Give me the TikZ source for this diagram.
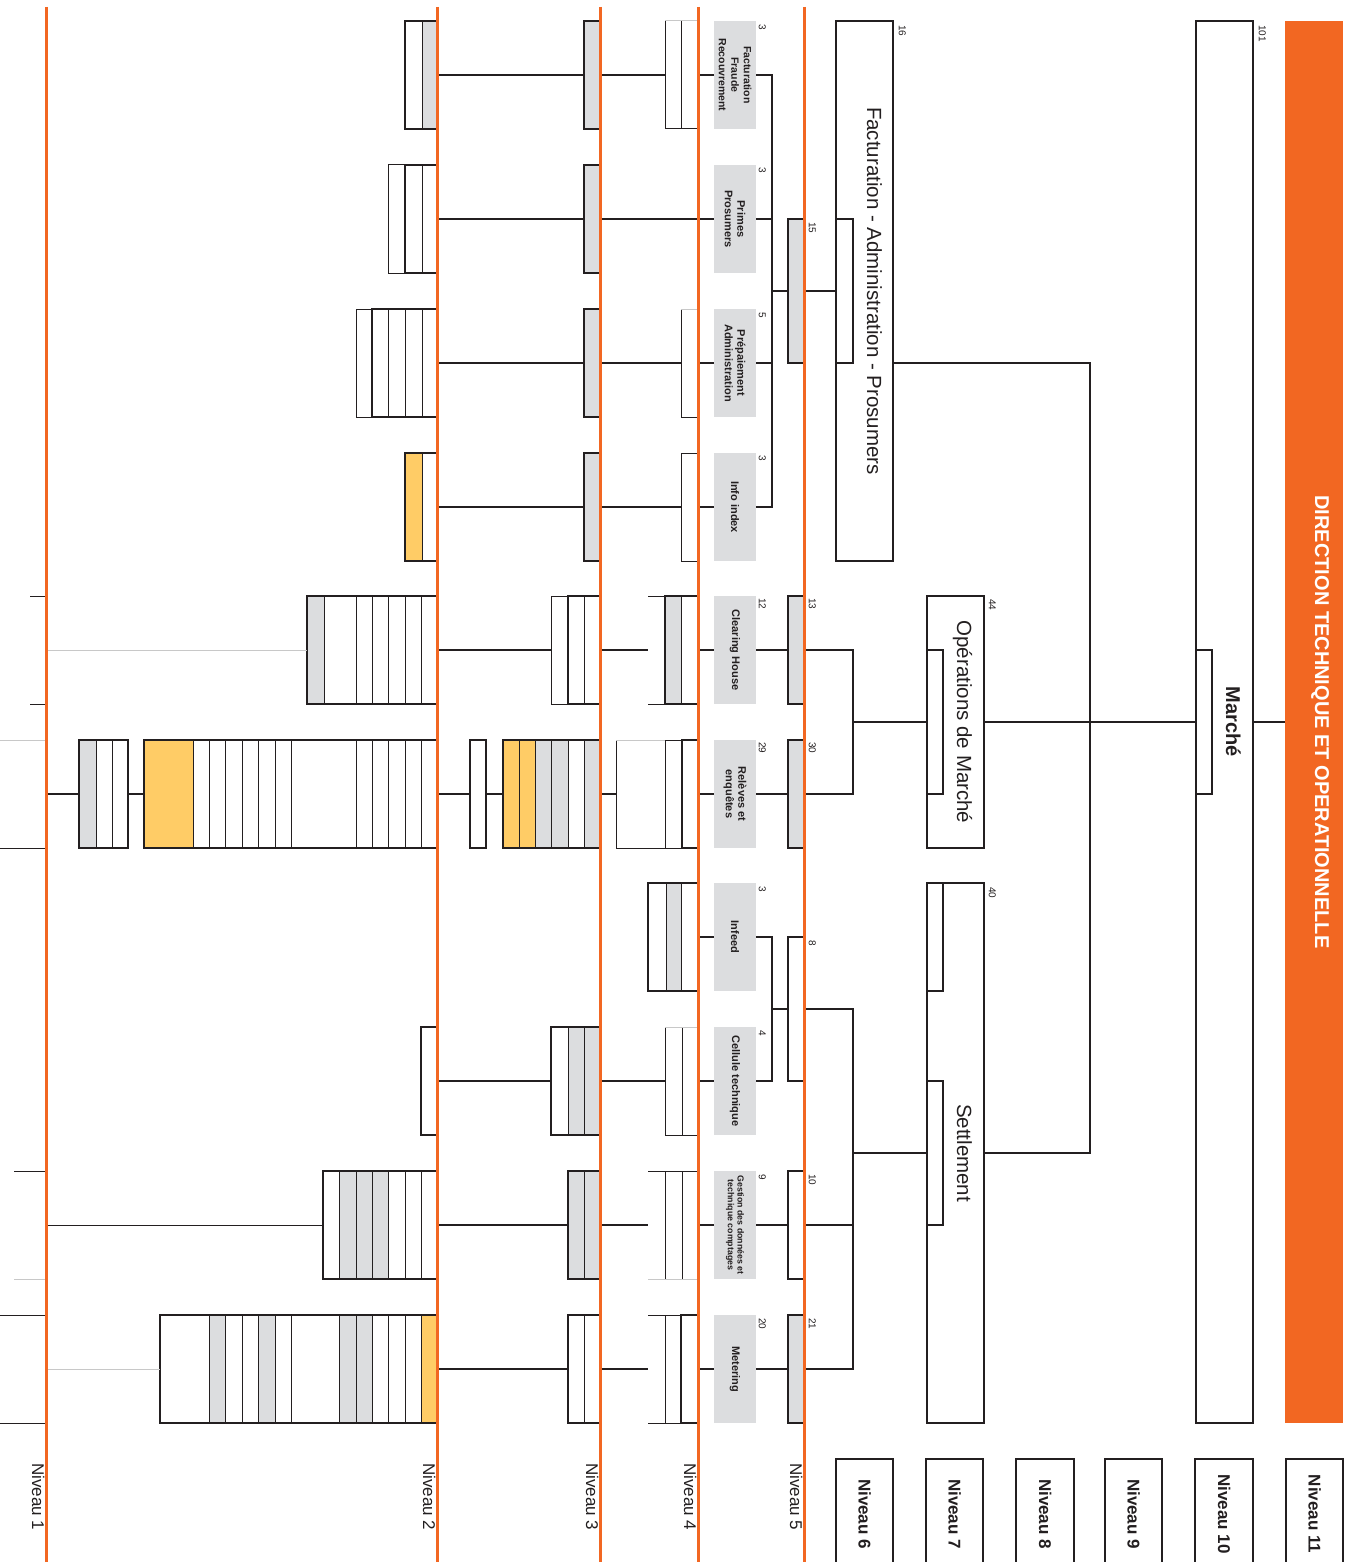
\documentclass[tikz,border=0pt]{standalone}
\usepackage{fontspec}
\setmainfont{Liberation Sans}
\definecolor{orng}{HTML}{F26722}
\definecolor{gfill}{HTML}{DCDDDF}
\definecolor{yfill}{HTML}{FFCC66}
\definecolor{lgray}{HTML}{C8C8C8}
\definecolor{ink}{HTML}{231F20}
\newcommand\bx[6][]{\node[bxs,minimum width={(#4-#2)*1pt},minimum height={(#5-#3)*1pt},#1] (#6) at ({(#2+#4)/2},{(#3+#5)/2}) {};}
\newcommand\cellrow[3]{\foreach \xa/\xb/\cl in {#3}{\filldraw[fill=\cl,draw=ink,line width=1pt] (\xa,#1) rectangle (\xb,#2);}}
\begin{document}
\begin{tikzpicture}[x=1pt,y=-1pt,
  bxs/.style={draw=ink,line width=2.2pt,inner sep=0pt,outer sep=0pt,rectangle},
  conn/.style={draw=ink,line width=2.2pt},
  thinl/.style={draw=ink,line width=1pt},
  lgl/.style={draw=lgray,line width=1pt},
  olin/.style={draw=orng,line width=3pt},
  lab/.style={rotate=-90,font=\bfseries\fontsize{11}{12.5}\selectfont,align=center,inner sep=0pt,text=ink},
  num/.style={rotate=-90,font=\fontsize{10}{11}\selectfont,anchor=north west,inner sep=0pt,text=ink},
  big/.style={rotate=-90,font=\fontsize{20.5}{24}\selectfont,anchor=base,inner sep=0pt,text=ink},
  niv/.style={rotate=-90,font=\fontsize{17}{20}\selectfont,anchor=base west,inner sep=0pt,text=ink},
  nivb/.style={rotate=-90,font=\bfseries\fontsize{17}{20}\selectfont,anchor=base,inner sep=0pt,text=ink}]
\useasboundingbox[fill=white] (0,0) rectangle (1350,1562);

% ---------- top levels ----------
\bx[draw=none,fill=orng]{1285}{21}{1343}{1423}{dir}
\node[rotate=-90,font=\bfseries\fontsize{20}{24}\selectfont,anchor=base,inner sep=0pt,text=white] (dirt) at (1315,722) {DIRECTION TECHNIQUE ET OPERATIONNELLE};
\bx{1196}{21}{1253}{1423}{mar}
\node[rotate=-90,font=\bfseries\fontsize{20}{24}\selectfont,anchor=base,inner sep=0pt,text=ink] (mart) at (1226,722) {Marché};
\node[num] (marn) at (1266,25) {101};
\draw[conn] (1196,650) -- (1212,650) -- (1212,794) -- (1196,794);

\bx{836}{21}{893}{561}{fac}
\node[big] (fact) at (867,291) {Facturation - Administration - Prosumers};
\node[num] (facn) at (906,25) {16};
\draw[conn] (836,219) -- (853,219) -- (853,363) -- (836,363);

\bx{927}{596}{984}{848}{ope}
\node[big] (opet) at (957,722) {Opérations de Marché};
\node[num] (open) at (996,599) {44};
\draw[conn] (927,650) -- (943,650) -- (943,794) -- (927,794);

\bx{927}{883}{984}{1423}{set}
\node[big] (sett) at (957,1153) {Settlement};
\node[num] (setn) at (996,887) {40};
\bx[line width=1.4pt]{927}{883}{943}{991}{setA}
\draw[conn] (927,1081) -- (943,1081) -- (943,1225) -- (927,1225);

\draw[conn] (mar.east) -- (dir.west);
\draw[conn] (ope.east) -- (mar.west);
\coordinate (jm) at (1090,363);
\draw[conn] (fac.east |- jm) -- (jm) |- (set.east);

% ---------- level 5 ----------
\bx[fill=gfill]{788}{219}{804}{363}{b15}
\bx[fill=gfill]{788}{596}{804}{704}{b13}
\bx[fill=gfill]{788}{740}{804}{848}{b30}
\bx{788}{937}{804}{1081}{b8}
\bx{788}{1171}{804}{1279}{b10}
\bx[fill=gfill]{788}{1315}{804}{1423}{b21}
\node[num] (n15) at (816,222) {15};
\node[num] (n13) at (816,598) {13};
\node[num] (n30) at (816,742) {30};
\node[num] (n8) at (816,940) {8};
\node[num] (n10) at (816,1174) {10};
\node[num] (n21) at (816,1318) {21};

\draw[conn] (b15.east) -- (fac.west);
\coordinate (jo) at (853,722);
\draw[conn] (b13.east) -| (jo) |- (b30.east);
\draw[conn] (jo) -- (ope.west);
\coordinate (js) at (853,1153);
\draw[conn] (b8.east) -| (js) |- (b21.east);
\draw[conn] (b10.east) -- (b10.east -| js);
\draw[conn] (js) -- (set.west);

% ---------- grey labels (level 4/5) ----------
\bx[draw=none,fill=gfill]{714}{21}{756}{129}{u1lab}
\bx[draw=none,fill=gfill]{714}{165}{756}{273}{u2lab}
\bx[draw=none,fill=gfill]{714}{309}{756}{417}{u3lab}
\bx[draw=none,fill=gfill]{714}{453}{756}{561}{u4lab}
\bx[draw=none,fill=gfill]{714}{596}{756}{704}{u5lab}
\bx[draw=none,fill=gfill]{714}{740}{756}{848}{u6lab}
\bx[draw=none,fill=gfill]{714}{883}{756}{991}{u7lab}
\bx[draw=none,fill=gfill]{714}{1027}{756}{1135}{u8lab}
\bx[draw=none,fill=gfill]{714}{1171}{756}{1279}{u9lab}
\bx[draw=none,fill=gfill]{714}{1315}{756}{1423}{u10lab}
\node[lab,font=\bfseries\fontsize{10.5}{12.5}\selectfont] (u1t) at (u1lab.center) {Facturation\\Fraude\\Recouvrement};
\node[lab] (u2t) at (u2lab.center) {Primes\\Prosumers};
\node[lab] (u3t) at (u3lab.center) {Prépaiement\\Administration};
\node[lab] (u4t) at (u4lab.center) {Info index};
\node[lab] (u5t) at (u5lab.center) {Clearing House};
\node[lab] (u6t) at (u6lab.center) {Relèves et\\enquêtes};
\node[lab] (u7t) at (u7lab.center) {Infeed};
\node[lab] (u8t) at (u8lab.center) {Cellule technique};
\node[lab,font=\bfseries\fontsize{8.8}{9.8}\selectfont] (u9t) at (u9lab.center) {Gestion des données et\\technique comptages};
\node[lab] (u10t) at (u10lab.center) {Metering};
\node[num] (u1n) at (766,24) {3};
\node[num] (u2n) at (766,167) {3};
\node[num] (u3n) at (766,312) {5};
\node[num] (u4n) at (766,455) {3};
\node[num] (u5n) at (766,598) {12};
\node[num] (u6n) at (766,742) {29};
\node[num] (u7n) at (766,886) {3};
\node[num] (u8n) at (766,1030) {4};
\node[num] (u9n) at (766,1174) {9};
\node[num] (u10n) at (766,1318) {20};

\coordinate (ja) at (772,291);
\draw[conn] (u1lab.east) -| (ja) |- (u4lab.east);
\draw[conn] (u2lab.east) -- (u2lab.east -| ja);
\draw[conn] (u3lab.east) -- (u3lab.east -| ja);
\draw[conn] (ja) -- (b15.west);
\draw[conn] (u5lab.east) -- (b13.west);
\draw[conn] (u6lab.east) -- (b30.west);
\coordinate (jb) at (772,1009);
\draw[conn] (u7lab.east) -| (jb) |- (u8lab.east);
\draw[conn] (jb) -- (b8.west);
\draw[conn] (u9lab.east) -- (b10.west);
\draw[conn] (u10lab.east) -- (b21.west);

% ---------- unit 1 ----------
\cellrow{21}{129}{405/422/white,422/437/gfill}
\bx{405}{21}{437}{129}{u1b2}
\bx[fill=gfill]{584}{21}{600}{129}{u1b3}
\cellrow{21}{129}{665/681/white,681/698/white}
\bx[draw=none]{665}{21}{698}{129}{u1b4}
\draw[lgl] (665,21) -- (698,21);
\draw[conn] (u1b2.east) -- (u1b3.west) (u1b3.east) -- (u1b4.west) (u1b4.east) -- (u1lab.west);

% ---------- unit 2 ----------
\cellrow{165}{273}{388/405/white,405/422/white,422/437/white}
\bx{405}{165}{437}{273}{u2b2}
\bx[fill=gfill]{584}{165}{600}{273}{u2b3}
\draw[conn] (u2b2.east) -- (u2b3.west) (u2b3.east) -- (u2lab.west);

% ---------- unit 3 ----------
\cellrow{309}{417}{356/372/white,372/388/white,388/405/white,405/422/white,422/437/white}
\bx{372}{309}{437}{417}{u3b2}
\bx[fill=gfill]{584}{309}{600}{417}{u3b3}
\cellrow{309}{417}{681/698/white}
\bx[draw=none]{681}{309}{698}{417}{u3b4}
\draw[lgl] (681,309) -- (698,309);
\draw[conn] (u3b2.east) -- (u3b3.west) (u3b3.east) -- (u3b4.west) (u3b4.east) -- (u3lab.west);

% ---------- unit 4 ----------
\cellrow{453}{561}{405/422/yfill,422/437/white}
\bx{405}{453}{437}{561}{u4b2}
\bx[fill=gfill]{584}{453}{600}{561}{u4b3}
\cellrow{453}{561}{681/698/white}
\bx[draw=none]{681}{453}{698}{561}{u4b4}
\draw[conn] (u4b2.east) -- (u4b3.west) (u4b3.east) -- (u4b4.west) (u4b4.east) -- (u4lab.west);

% ---------- unit 5 ----------
\draw[thinl] (30,596) -- (46,596) (30,704) -- (46,704);
\coordinate (u5o1) at (46,650);
\cellrow{596}{704}{307/324/gfill,324/356/white,356/372/white,372/388/white,388/405/white,405/421/white,421/437/white}
\bx{307}{596}{437}{704}{u5b2}
\cellrow{596}{704}{551/568/white,568/584/white,584/600/white}
\bx[draw=none]{551}{596}{568}{704}{u5b3a}
\bx{568}{596}{600}{704}{u5b3}
\bx[draw=none]{648}{596}{665}{704}{u5b4a}
\draw[thinl] (u5b4a.north west) -- (u5b4a.north east) (u5b4a.south west) -- (u5b4a.south east);
\cellrow{596}{704}{665/681/gfill,681/698/white}
\bx{665}{596}{698}{704}{u5b4}
\draw[lgl] (u5o1) -- (u5b2.west);
\draw[conn] (u5b2.east) -- (u5b3a.west) (u5b3.east) -- (u5b4a.west) (u5b4.east) -- (u5lab.west);

% ---------- unit 6 ----------
\draw[lgl] (0,740) -- (46,740);
\draw[thinl] (0,848) -- (46,848);
\coordinate (u6o1) at (46,794);
\cellrow{740}{848}{79/96/gfill,96/112/white,112/128/white}
\bx{79}{740}{128}{848}{u6b1}
\cellrow{740}{848}{144/193/yfill,193/209/white,209/225/white,225/242/white,242/258/white,258/275/white,275/291/white,291/356/white,356/372/white,372/388/white,388/405/white,405/421/white,421/437/white}
\bx{144}{740}{437}{848}{u6b2}
\bx{470}{740}{486}{848}{u6b3a}
\cellrow{740}{848}{503/519/yfill,519/535/yfill,535/551/gfill,551/568/gfill,568/584/white,584/600/gfill}
\bx{503}{740}{600}{848}{u6b3}
\cellrow{740}{848}{616/665/white,665/682/white}
\draw[lgl] (616,740) -- (665,740);
\bx[draw=none]{616}{740}{665}{848}{u6b4a}
\bx{682}{740}{698}{848}{u6b4}
\draw[conn] (u6o1) -- (u6b1.west) (u6b1.east) -- (u6b2.west) (u6b2.east) -- (u6b3a.west) (u6b3a.east) -- (u6b3.west) (u6b3.east) -- (u6b4a.west) (u6b4.east) -- (u6lab.west);

% ---------- unit 7 ----------
\cellrow{883}{991}{648/666/white,666/681/gfill,681/698/white}
\bx{648}{883}{698}{991}{u7b4}
\draw[conn] (u7b4.east) -- (u7lab.west);

% ---------- unit 8 ----------
\bx{421}{1027}{437}{1135}{u8b2}
\cellrow{1027}{1135}{551/568/white,568/584/gfill,584/600/gfill}
\bx{551}{1027}{600}{1135}{u8b3}
\cellrow{1027}{1135}{665/682/white,682/698/white}
\draw[lgl] (665,1027) -- (698,1027);
\bx[draw=none]{665}{1027}{698}{1135}{u8b4}
\draw[conn] (u8b2.east) -- (u8b3.west) (u8b3.east) -- (u8b4.west) (u8b4.east) -- (u8lab.west);

% ---------- unit 9 ----------
\draw[thinl] (14,1171) -- (46,1171);
\draw[lgl] (14,1279) -- (46,1279);
\coordinate (u9o1) at (46,1225);
\cellrow{1171}{1279}{323/339/white,339/356/gfill,356/372/gfill,372/388/gfill,388/405/white,405/421/white,421/437/white}
\bx{323}{1171}{437}{1279}{u9b2}
\cellrow{1171}{1279}{568/584/gfill,584/600/gfill}
\bx{568}{1171}{600}{1279}{u9b3}
\bx[draw=none]{648}{1171}{665}{1279}{u9b4a}
\draw[thinl] (648,1171) -- (665,1171);
\cellrow{1171}{1279}{665/682/white,682/698/white}
\draw[lgl] (648,1279) -- (698,1279);
\bx[draw=none]{665}{1171}{698}{1279}{u9b4}
\draw[thinl] (u9o1) -- (u9b2.west);
\draw[conn] (u9b2.east) -- (u9b3.west) (u9b3.east) -- (u9b4a.west) (u9b4.east) -- (u9lab.west);

% ---------- unit 10 ----------
\draw[thinl] (0,1315) -- (46,1315) (0,1423) -- (46,1423);
\coordinate (u10o1) at (46,1369);
\cellrow{1315}{1423}{160/209/white,209/225/gfill,225/242/white,242/258/white,258/275/gfill,275/291/white,291/339/white,339/356/gfill,356/372/gfill,372/388/white,388/405/white,405/421/white,421/437/yfill}
\bx{160}{1315}{437}{1423}{u10b2}
\cellrow{1315}{1423}{568/584/white,584/600/white}
\bx{568}{1315}{600}{1423}{u10b3}
\bx[draw=none]{648}{1315}{665}{1423}{u10b4a}
\draw[thinl] (u10b4a.north west) -- (u10b4a.north east) (u10b4a.south west) -- (u10b4a.south east);
\cellrow{1315}{1423}{665/681/white}
\bx{681}{1315}{698}{1423}{u10b4}
\draw[lgl] (u10o1) -- (u10b2.west);
\draw[conn] (u10b2.east) -- (u10b3.west) (u10b3.east) -- (u10b4a.west) (u10b4.east) -- (u10lab.west);

% ---------- level headers ----------
\foreach \xa/\xb/\n in {836/893/6,926/983/7,1016/1074/8,1105/1162/9,1195/1253/10,1286/1343/11}{
  \draw[conn] (\xa,1562) -- (\xa,1459) -- (\xb,1459) -- (\xb,1562);
  \node[nivb] (niv\n) at ({(\xa+\xb)/2-6},1514) {Niveau \n};
}

% ---------- orange level lines ----------
\foreach \x/\n in {46/1,437/2,600/3,698/4,804/5}{
  \draw[olin] (\x,7) -- (\x,1562);
  \node[niv] (niv\n) at ({\x-14},1463) {Niveau \n};
}
\end{tikzpicture}
\end{document}
